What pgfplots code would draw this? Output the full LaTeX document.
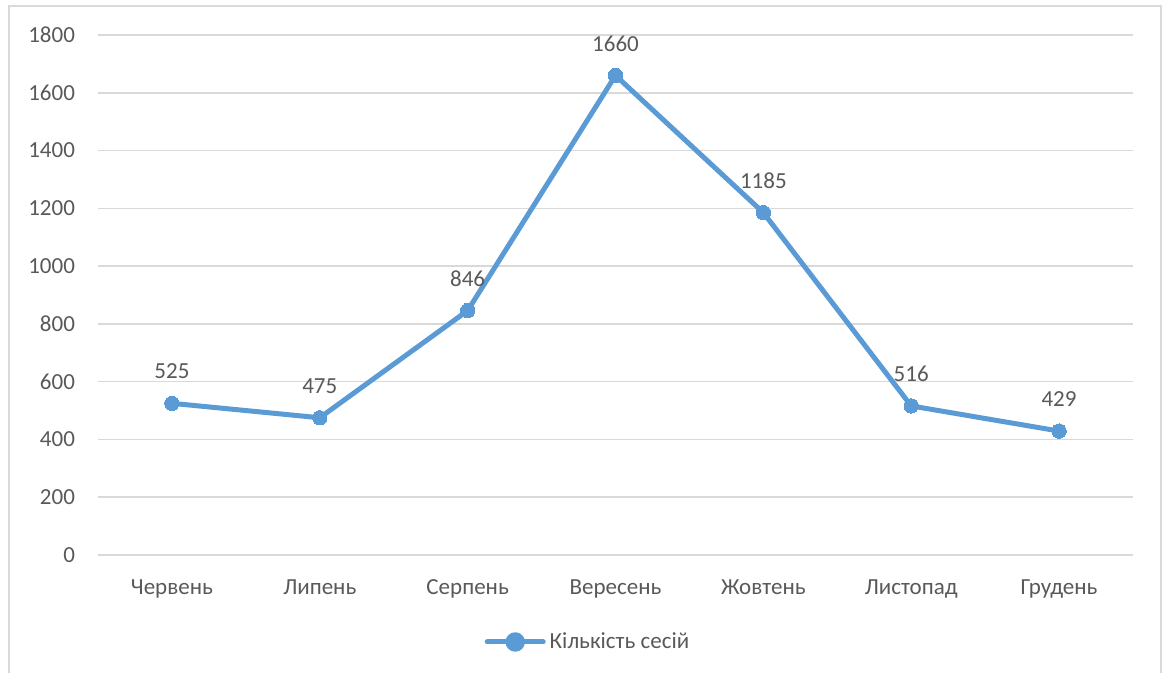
\documentclass[border=0pt]{standalone}
\usepackage{pgfplots}
\pgfplotsset{compat=1.18}
\usepackage{fontspec}
\setmainfont{Carlito}
\definecolor{serieblue}{HTML}{5B9BD5}
\definecolor{txtgray}{HTML}{595959}
\definecolor{gridgray}{HTML}{D9D9D9}
\begin{document}
\begin{tikzpicture}
% page size and outer frame
\useasboundingbox (0,0) rectangle (584pt,336.5pt);
\draw[gridgray, line width=0.8pt] (4.5pt,-5pt) -- (4.5pt,333.5pt) -- (580.5pt,333.5pt) -- (580.5pt,-5pt);
\begin{axis}[
  at={(49pt,59pt)}, anchor=south west,
  scale only axis, width=517.5pt, height=260pt,
  xmin=-0.5, xmax=6.5, ymin=0, ymax=1800,
  xtick=data,
  xticklabels={Червень, Липень, Серпень, Вересень, Жовтень, Листопад, Грудень},
  ytick={0,200,...,1800},
  ymajorgrids, grid style={gridgray, line width=0.75pt},
  axis line style={draw=none},
  major tick length=0pt,
  /pgf/number format/assume math mode=true,
  /pgf/number format/1000 sep={},
  tick label style={font=\fontsize{11.5}{14}\selectfont, text=txtgray},
  yticklabel style={xshift=-8pt},
  xticklabel style={yshift=-9pt},
  clip=false,
  legend style={at={(axis description cs:0.5,0)}, xshift=-13.25pt, yshift=-43.5pt, anchor=center,
    draw=none, fill=none, font=\fontsize{11.5}{14}\selectfont, text=txtgray,
    inner sep=0pt},
  legend cell align=left,
  legend image code/.code={
    \draw[serieblue, line width=2.5pt, line cap=round] (0pt,0pt) -- (28pt,0pt);
    \fill[serieblue] (14pt,0pt) circle (3.6pt);
  },
]
\addplot[serieblue, line width=2.5pt, line join=round,
  mark=*, mark size=3.6pt, mark options={fill=serieblue, draw=serieblue, line width=0pt},
  nodes near coords,
  every node near coord/.append style={font=\fontsize{11.5}{14}\selectfont, text=txtgray, anchor=center, yshift=16pt},
] coordinates {
  (0,525) (1,475) (2,846) (3,1660) (4,1185) (5,516) (6,429)
};
\addlegendentry{Кількість сесій}
\end{axis}
\end{tikzpicture}
\end{document}
